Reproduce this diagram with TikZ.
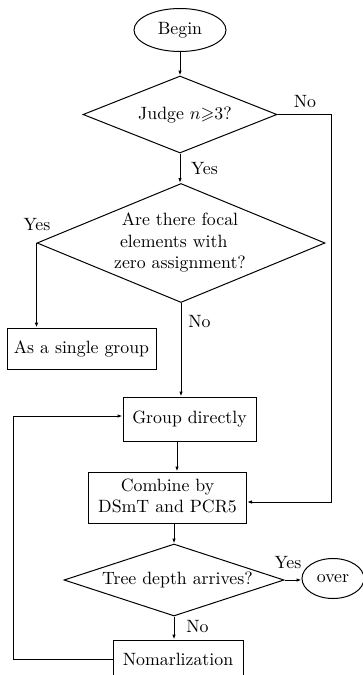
\documentclass[tikz,border=0pt]{standalone}
\usepackage{amssymb}
\usetikzlibrary{shapes.geometric,arrows.meta}
\newcommand\bigtxt[1]{\scalebox{1.78}{#1}}
\newcommand\bigtab[1]{\scalebox{1.78}{\begin{tabular}{@{}c@{}}#1\end{tabular}}}
\tikzset{
  base/.style={draw, line width=1pt, inner sep=0pt},
  boxnode/.style={base, rectangle},
  ellnode/.style={base, ellipse},
  dianode/.style={base, diamond, aspect=2.5},
  txt/.style={inner sep=0pt},
  conn/.style={line width=1pt},
  arr/.style={conn, -{Latex[length=5pt,width=3.5pt]}}
}
\begin{document}
\begin{tikzpicture}[x=1pt,y=-1pt]
\clip (0,0) rectangle (363,675);
% nodes
\node[ellnode, minimum width=92, minimum height=43] (begin) at (180,30) {\bigtxt{Begin}};
\node[dianode, minimum width=194, minimum height=77] (d1) at (180,114.5) {};
\node[txt] (d1t) at (185,115) {\bigtxt{Judge $n{\geqslant}3$?}};
\node[dianode, minimum width=288, minimum height=119] (d2) at (181,243) {};
\node[txt] (d2t) at (180,243) {\bigtab{Are there focal\\elements with\hspace*{7pt}\\zero assignment?}};
\node[boxnode, minimum width=149, minimum height=41] (single) at (81.5,348.5) {\bigtxt{As a single group}};
\node[boxnode, minimum width=133, minimum height=44] (group) at (189.5,419) {\bigtxt{Group directly}};
\node[boxnode, minimum width=158, minimum height=51] (combine) at (167.5,497.5) {\bigtab{Combine by\\DSmT and PCR5}};
\node[dianode, minimum width=220, minimum height=72] (d3) at (174,580) {};
\node[txt] (d3t) at (177.5,580) {\bigtxt{Tree depth arrives?}};
\node[ellnode, minimum width=62, minimum height=40] (over) at (333,578.5) {\bigtxt{over}};
\node[boxnode, minimum width=130, minimum height=38] (norm) at (178,659) {\bigtxt{Nomarlization}};
% labels
\node[txt] (l1) at (305,102) {\bigtxt{No}};
\node[txt] (l2) at (204.5,169) {\bigtxt{Yes}};
\node[txt] (l3) at (37,225) {\bigtxt{Yes}};
\node[txt] (l4) at (199.5,322) {\bigtxt{No}};
\node[txt] (l5) at (288,563) {\bigtxt{Yes}};
\node[txt] (l6) at (197.5,627) {\bigtxt{No}};
% helper coordinates
\coordinate (rt) at (331,502);
\coordinate (gx) at (177,0);
\coordinate (lx) at (13,416);
% connectors
\draw[arr] (begin.south) -- (d1.north);
\draw[arr] (d1.south) -- (d1.south |- d2.north);
\draw[arr] (d1.east) -| (rt) -- (rt -| combine.east);
\draw[arr] (d2.west) -- (d2.west |- single.north);
\draw[arr] (d2.south) -- (d2.south |- group.north);
\draw[arr] (gx |- group.south) -- (gx |- combine.north);
\draw[arr] (d3.north |- combine.south) -- (d3.north);
\draw[arr] (d3.east) -- (d3.east -| over.west);
\draw[arr] (d3.south) -- (d3.south |- norm.north);
\draw[arr] (norm.west) -| (lx) -- (lx -| group.west);
\end{tikzpicture}
\end{document}
